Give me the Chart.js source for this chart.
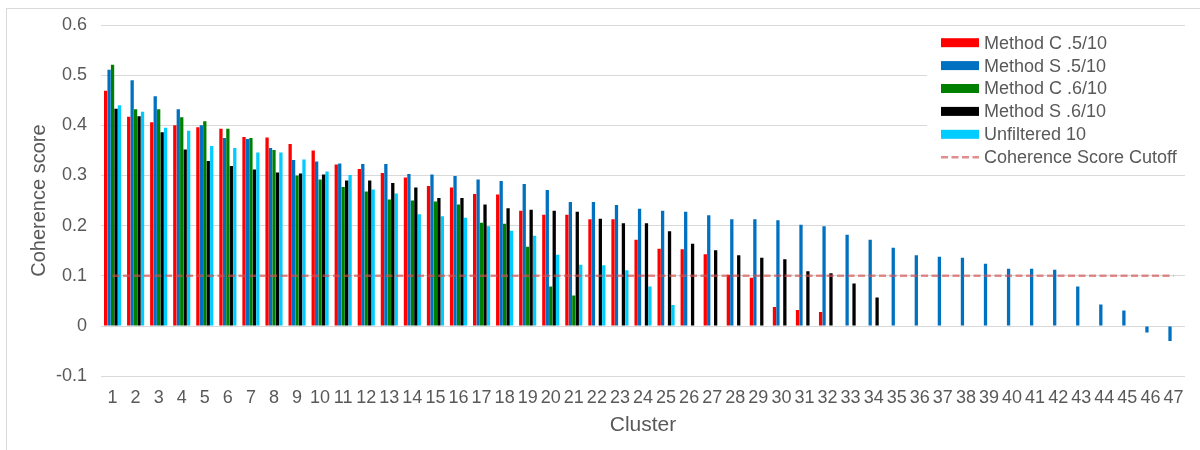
<!DOCTYPE html>
<html>
<head>
<meta charset="utf-8">
<script src="https://cdn.jsdelivr.net/npm/chart.js@4/dist/chart.umd.min.js"></script>
<style>
  html, body { margin: 0; padding: 0; background: #fff; overflow: hidden; }
  #wrap { position: relative; width: 1200px; height: 450px; }
  #frame { position: absolute; left: 6px; top: 8px; width: 1300px; height: 600px; border: 1px solid #d9d9d9; box-sizing: border-box; pointer-events: none; }
  canvas { position: absolute; left: 0; top: 0; }
</style>
</head>
<body>
<div id="wrap">
  <canvas id="c" width="1200" height="450"></canvas>
  <div id="frame"></div>
</div>
<script>
// ---- data ----
const clusters = ["1","2","3","4","5","6","7","8","9","10","11","12","13","14","15","16","17","18","19","20","21","22","23","24","25","26","27","28","29","30","31","32","33","34","35","36","37","38","39","40","41","42","43","44","45","46","47"];

const methodC5 = [0.469,0.417,0.406,0.400,0.396,0.393,0.377,0.376,0.363,0.350,0.322,0.313,0.305,0.296,0.279,0.276,0.263,0.262,0.230,0.222,0.222,0.213,0.213,0.172,0.154,0.153,0.143,0.102,0.096,0.038,0.032,0.028];

const methodS5 = [0.511,0.490,0.458,0.432,0.400,0.375,0.373,0.355,0.331,0.328,0.324,0.323,0.323,0.303,0.302,0.299,0.292,0.289,0.283,0.271,0.247,0.247,0.241,0.234,0.230,0.228,0.221,0.213,0.213,0.211,0.202,0.199,0.182,0.172,0.156,0.141,0.138,0.136,0.124,0.114,0.114,0.112,0.079,0.043,0.031,-0.013,-0.030];

const methodC6 = [0.521,0.432,0.432,0.416,0.408,0.393,0.375,0.351,0.300,0.292,0.277,0.268,0.252,0.250,0.248,0.242,0.206,0.204,0.158,0.079,0.061];

const methodS6 = [0.433,0.418,0.386,0.352,0.329,0.319,0.312,0.306,0.304,0.302,0.290,0.290,0.285,0.276,0.255,0.255,0.242,0.235,0.232,0.230,0.228,0.214,0.205,0.205,0.189,0.164,0.151,0.141,0.136,0.133,0.109,0.105,0.085,0.057];

const unfiltered10 = [0.440,0.427,0.395,0.389,0.359,0.355,0.346,0.346,0.332,0.308,0.301,0.272,0.264,0.223,0.219,0.216,0.199,0.190,0.180,0.142,0.122,0.121,0.111,0.079,0.042];

const cutoffValue = 0.1;
const yTicks = [-0.1, 0, 0.1, 0.2, 0.3, 0.4, 0.5, 0.6];

// ---- chart ----
const FONT = "'Liberation Sans', Arial, sans-serif";
const TEXT = '#595959';
const cutoffColor = 'rgba(214,80,80,0.65)';

function bar(label, data, color) {
  return { type: 'bar', label, data, backgroundColor: color, borderWidth: 0, order: 1,
           categoryPercentage: 0.75, barPercentage: 0.95 };
}

const legendPlugin = {
  id: 'boxLegend',
  afterDraw(chart) {
    const ctx = chart.ctx;
    ctx.save();
    ctx.fillStyle = '#fff';
    ctx.fillRect(927, 29, 258, 142);
    const x0 = 941, sw = 38, rowH = 22.9, y0 = 42.7;
    ctx.font = '18px ' + FONT;
    ctx.textBaseline = 'middle';
    ctx.textAlign = 'left';
    chart.data.datasets.forEach((ds, i) => {
      const y = y0 + i * rowH;
      if (ds.type === 'line') {
        ctx.strokeStyle = ds.borderColor;
        ctx.lineWidth = 2.5;
        ctx.setLineDash([7, 3.5]);
        ctx.beginPath(); ctx.moveTo(x0, y); ctx.lineTo(x0 + sw, y); ctx.stroke();
        ctx.setLineDash([]);
      } else {
        ctx.fillStyle = ds.backgroundColor;
        ctx.fillRect(x0, y - 4.5, sw, 9);
      }
      ctx.fillStyle = TEXT;
      ctx.fillText(ds.label, x0 + sw + 5, y + 1);
    });
    ctx.restore();
  }
};

new Chart(document.getElementById('c'), {
  data: {
    labels: clusters,
    datasets: [
      bar('Method C .5/10', methodC5, '#FF0000'),
      bar('Method S .5/10', methodS5, '#0070C0'),
      bar('Method C .6/10', methodC6, '#008000'),
      bar('Method S .6/10', methodS6, '#000000'),
      bar('Unfiltered 10', unfiltered10, '#00CCFF'),
      { type: 'line', label: 'Coherence Score Cutoff',
        data: [{ x: clusters[0], y: cutoffValue }, { x: clusters[clusters.length - 1], y: cutoffValue }],
        borderColor: cutoffColor, borderWidth: 2.5, borderDash: [7, 3.5],
        pointRadius: 0, fill: false, order: 0 }
    ]
  },
  options: {
    responsive: false,
    animation: false,
    events: [],
    layout: { padding: { left: 23, right: 15, top: 25, bottom: 12 } },
    plugins: { legend: { display: false }, tooltip: { enabled: false } },
    scales: {
      x: {
        grid: { display: false, drawTicks: false },
        border: { display: false },
        ticks: { color: TEXT, font: { family: FONT, size: 18 }, padding: 11, autoSkip: false, maxRotation: 0, minRotation: 0 },
        title: { display: true, text: 'Cluster', color: TEXT, font: { family: FONT, size: 21 }, padding: { top: -7, bottom: 0 } }
      },
      y: {
        min: -0.1, max: 0.6,
        afterBuildTicks(axis) { axis.ticks = yTicks.map(v => ({ value: v })); },
        grid: { color: '#d9d9d9', lineWidth: 1, drawTicks: false },
        border: { display: false },
        ticks: { color: TEXT, font: { family: FONT, size: 18 }, padding: 14,
                 callback: v => (Math.round(v * 10) / 10).toString() },
        title: { display: true, text: 'Coherence score', color: TEXT, font: { family: FONT, size: 20 }, padding: { top: 4, bottom: -9 } }
      }
    }
  },
  plugins: [legendPlugin]
});
</script>
</body>
</html>
